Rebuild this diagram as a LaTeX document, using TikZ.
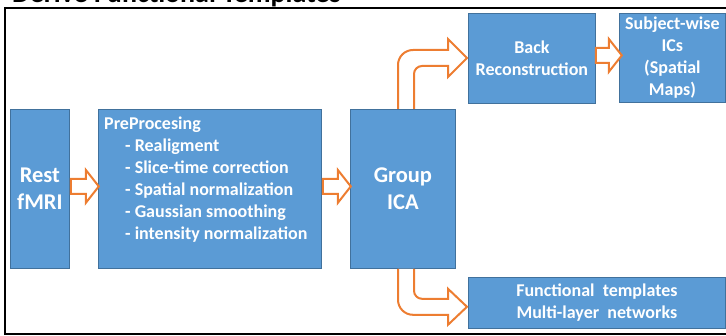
\documentclass[tikz,border=0pt]{standalone}
\usepackage{fontspec}
\setmainfont{Carlito}
\usetikzlibrary{calc}
\definecolor{boxblue}{HTML}{5B9BD5}
\definecolor{boxedge}{HTML}{41719C}
\definecolor{arrowor}{HTML}{ED7D31}
\newcommand{\blockarrow}[3]{%
  \filldraw[barrow] #1 ++(0,-7.5) -- ++(#2,0) -- ++(0,-9) -- ++(#3,16.5)
    -- ++(-#3,16.5) -- ++(0,-9) -- ++(-#2,0) -- cycle;}
\begin{document}
\begin{tikzpicture}[x=1pt,y=-1pt,
  box/.style={draw=boxedge, line width=0.8pt, fill=boxblue, text=white,
    align=center, anchor=north west, inner sep=0pt},
  barrow/.style={draw=arrowor, line width=2pt, fill=white, line join=miter},
  big/.style={font=\fontsize{22.5}{27}\selectfont\bfseries},
  med/.style={font=\fontsize{18}{22}\selectfont\bfseries}]
\useasboundingbox (0,0) rectangle (726,336);
\clip (0,0) rectangle (726,336);
% title and frame
\node[anchor=base west, inner sep=0pt, font=\fontsize{28}{30}\selectfont\bfseries] (title) at (12,3) {Derive Functional Templates};
\draw[line width=2pt] (5,8) rectangle (732,334.5);
% boxes
\node[box, big, minimum width=59, minimum height=159] (rest) at (10,109) {Rest\\fMRI};
\node[box, minimum width=223, minimum height=159] (pre) at (98,109) {};
\node[anchor=north west, inner sep=0pt, text=white, med, align=left] (pretext) at ($(pre.north west)+(6,7.5)$)
  {PreProcesing\\
   \hspace*{21pt}- Realigment\\
   \hspace*{21pt}- Slice-time correction\\
   \hspace*{21pt}- Spatial normalization\\
   \hspace*{21pt}- Gaussian smoothing\\
   \hspace*{21pt}- intensity normalization};
\node[box, big, minimum width=105, minimum height=159] (ica) at (350,109) {Group\\ICA};
\node[box, med, minimum width=127, minimum height=90] (back) at (468,13) {Back\\Reconstruction};
\node[box, med, minimum width=106, minimum height=89] (subj) at (619,13) {Subject-wise\\ICs\\(Spatial\\Maps)};
\node[box, med, minimum width=257, minimum height=51] (func) at (468,277) {Functional\ \ templates\\Multi-layer\ \ networks};
% straight block arrows
\blockarrow{($(rest.east)+(1,-2.5)$)}{15}{13}
\blockarrow{($(pre.east)+(1,-2.5)$)}{15}{13}
\blockarrow{($(back.east)+(0,-3)$)}{13}{13}
% curved block arrows
\filldraw[barrow] ($(ica.north west)+(48,0)$) -- ++(0,-44)
  .. controls +(0,-8.3) and +(-8.3,0) .. ++(15,-15)
  -- ++(35,0) -- ++(0,-11) -- ++(19,19) -- ++(-19,19) -- ++(0,-11) -- ++(-26,0)
  .. controls +(-4.4,0) and +(0,-4.4) .. ++(-8,8)
  -- ++(0,35);
\filldraw[barrow] ($(ica.south west)+(48,0)$) -- ++(0,31)
  .. controls +(0,8.3) and +(-8.3,0) .. ++(15,15)
  -- ++(35,0) -- ++(0,10) -- ++(19,-18) -- ++(-19,-18) -- ++(0,10) -- ++(-26,0)
  .. controls +(-4.4,0) and +(0,4.4) .. ++(-8,-8)
  -- ++(0,-22);
\end{tikzpicture}
\end{document}
